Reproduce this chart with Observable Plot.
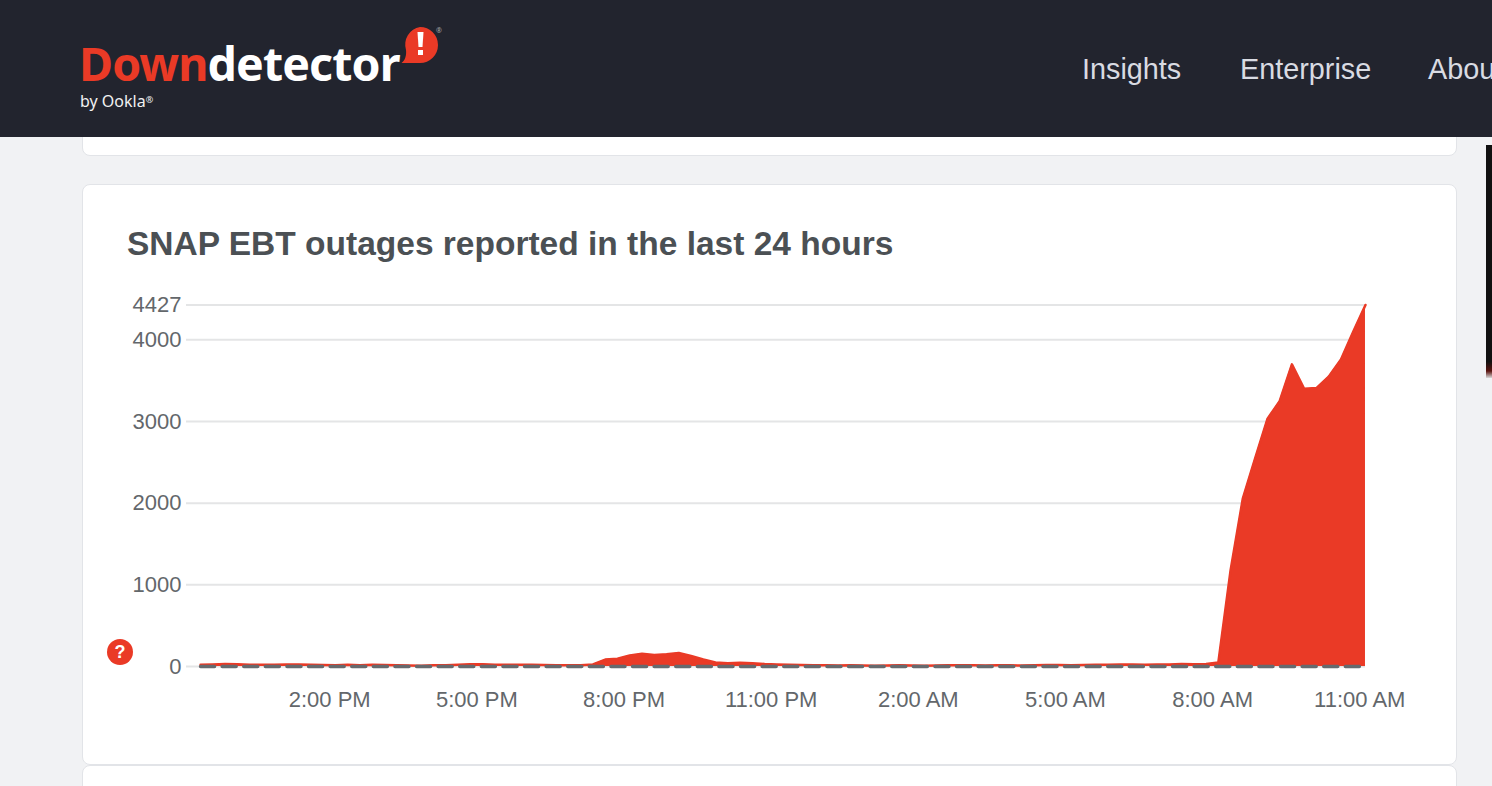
<!DOCTYPE html>
<html>
<head>
<meta charset="utf-8">
<script src="https://cdn.jsdelivr.net/npm/d3@7"></script>
<script src="https://cdn.jsdelivr.net/npm/@observablehq/plot@0.6"></script>
<style>
html,body{margin:0;padding:0;background:#f1f2f4;width:1492px;height:786px;overflow:hidden;font-family:"Liberation Sans",sans-serif}
#header{position:absolute;left:0;top:0;width:1492px;height:137px;background:#22242e;z-index:5;overflow:hidden}
.logo{position:absolute;left:79px;top:44px;font:700 46.500px/38px "Noto Sans",sans-serif;letter-spacing:-.9px;white-space:nowrap;color:#fff}
.logo span{color:#ea3a26}
.by{position:absolute;left:80px;top:92px;font:400 16px/15px "Noto Sans",sans-serif;color:#f1f1f1}
.reg{font-size:9px;vertical-align:4px}
.nav{position:absolute;top:52px;font:400 28.800px/34px "Liberation Sans",sans-serif;color:#d9dbe2;white-space:nowrap}
.card{position:absolute;left:82px;width:1373px;background:#fff;border:1px solid #e2e4e8;border-radius:8px}
#title{position:absolute;left:127px;top:224px;font:700 33.500px/40px "Liberation Sans",sans-serif;color:#4b5054;white-space:nowrap}
#chart{position:absolute;left:83px;top:290px}
#help{position:absolute;left:107px;top:639px;width:26px;height:26px;border-radius:50%;background:#ea3a26;color:#fff;font:700 18px/26px "Liberation Sans",sans-serif;text-align:center}
#ad{position:absolute;left:1486px;top:145px;width:6px;height:233px;background:linear-gradient(#111 0,#111 93%,#5a1410 97%,#d9d9d9 100%)}
</style>
</head>
<body>
<div id="header">
  <div class="logo"><span>Down</span>detector</div>
  <svg style="position:absolute;left:398px;top:22px" width="46" height="46" viewBox="0 0 46 46">
    <path d="M22 5a18 18 0 1 1 0 36H3.500c4-3 5-8 4.500-13A18 18 0 0 1 22 5z" fill="#ea3a26"/>
    <path d="M19.500 10h6l-1 15h-4z" fill="#fff"/><rect x="20" y="28" width="5" height="5" fill="#fff"/>
    <text x="38" y="11" font-size="7" fill="#aaa" font-family="Noto Sans">®</text>
  </svg>
  <div class="by">by Ookla<span class="reg">®</span></div>
  <div class="nav" style="left:1082px">Insights</div>
  <div class="nav" style="left:1240px">Enterprise</div>
  <div class="nav" style="left:1428px">About</div>
</div>
<div class="card" style="top:100px;height:54px"></div>
<div class="card" style="top:184px;height:579px"></div>
<div class="card" style="top:765px;height:60px"></div>
<div id="ad"></div>
<div id="title">SNAP EBT outages reported in the last 24 hours</div>
<div id="chart"></div>
<div id="help">?</div>
<script>
const reports = [
  22,25,30,27,22,20,21,25,26,22,18,15,20,15,20,18,
  15,12,10,15,15,20,28,27,22,20,20,20,18,15,15,15,
  25,85,95,135,155,140,150,165,130,85,50,40,45,40,30,25,
  20,18,15,15,12,14,12,10,12,14,12,10,12,15,15,14,
  12,14,15,12,14,18,18,15,18,20,22,24,24,22,24,26,
  30,28,30,50,1180,2060,2550,3030,3250,3700,3400,3410,3550,3760,4100,4427
];
const startTime = Date.UTC(2024,0,1,11,22);
const stepMinutes = 15;
const yTicks = [0,1000,2000,3000,4000,4427];
const xTickHours = [14,17,20,23,26,29,32,35];
const domainHours = [11.08, 35.117];

const hourToDate = h => new Date(Date.UTC(2024,0,1) + h*3600e3);
const rows = reports.map((v,i)=>({t:new Date(startTime + i*stepMinutes*60e3), v}));
const baseline = rows.map(d=>({t:d.t, v:0}));

const plot = Plot.plot({
  width:1340, height:430,
  marginLeft:103, marginRight:58, marginTop:14.5, marginBottom:54,
  style:{background:"transparent",fontFamily:"Liberation Sans, sans-serif",fontSize:"22px",color:"#63676b"},
  x:{type:"utc",domain:domainHours.map(hourToDate)},
  y:{domain:[0,4427]},
  marks:[
    Plot.ruleY(yTicks,{stroke:"#e4e5e6",strokeWidth:2,strokeOpacity:1}),
    Plot.areaY(rows,{x:"t",y:"v",fill:"#ea3a26"}),
    Plot.lineY(rows,{x:"t",y:"v",stroke:"#ea3a26",strokeWidth:2.500}),
    Plot.lineY(baseline,{x:"t",y:"v",stroke:"#666a6e",strokeWidth:3.500,strokeDasharray:"14,7.600"}),
    Plot.axisY({ticks:yTicks,tickSize:0,tickPadding:5,label:null,tickFormat:d=>String(d),fontSize:22,fill:"#63676b"}),
    Plot.axisX({ticks:xTickHours.map(hourToDate),tickSize:0,tickPadding:25,label:null,fontSize:22,fill:"#63676b",
      tickFormat:d=>{const h=d.getUTCHours();return `${h%12||12}:00 ${h<12?"AM":"PM"}`}})
  ]
});
document.getElementById("chart").appendChild(plot);
</script>
</body>
</html>
